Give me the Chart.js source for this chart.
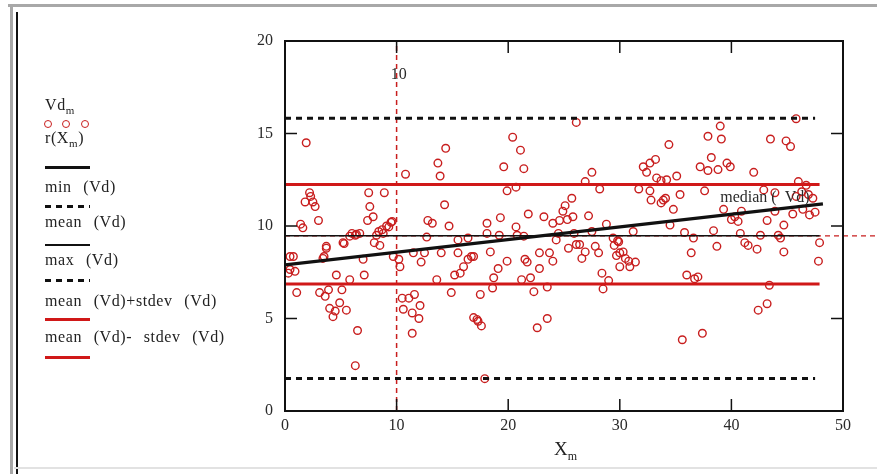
<!DOCTYPE html>
<html>
<head>
<meta charset="utf-8">
<script src="https://cdn.jsdelivr.net/npm/chart.js@4.4.1/dist/chart.umd.min.js"></script>
<style>
body { margin: 0; background: #fff; }
#wrap { position: relative; width: 877px; height: 474px; overflow: hidden; font-family: "Liberation Serif", serif; color: #222; }
#chart { position: absolute; left: 0; top: 0; }
.edge { position: absolute; }
.leg { position: absolute; left: 45px; font-size: 16px; line-height: 18px; white-space: nowrap; letter-spacing: 0.6px; word-spacing: 7px; }
.leg sub { font-size: 11px; }
.sw { position: absolute; left: 45px; width: 45px; }
.dot { position: absolute; width: 6px; height: 6px; border: 1.4px solid #c81e1e; border-radius: 50%; }
#xtitle { position: absolute; left: 554px; top: 438px; font-size: 19px; }
#xtitle sub { font-size: 12px; }
</style>
</head>
<body>
<div id="wrap">
  <!-- moldura da janela -->
  <div class="edge" style="left:8px;top:4px;width:869px;height:3px;background:#a8a8a8"></div>
  <div class="edge" style="left:10px;top:4px;width:3px;height:470px;background:#a8a8a8"></div>
  <div class="edge" style="left:16px;top:12px;width:2px;height:462px;background:#111"></div>
  <div class="edge" style="left:14px;top:467px;width:863px;height:2px;background:#e2e2e2"></div>

  <canvas id="chart" width="877" height="474"></canvas>

  <!-- legenda do eixo y -->
  <div class="leg" style="top:96px">Vd<sub>m</sub></div>
  <span class="dot" style="left:44px;top:120px"></span>
  <span class="dot" style="left:62px;top:120px"></span>
  <span class="dot" style="left:81px;top:120px"></span>
  <div class="leg" style="top:129px">r(X<sub>m</sub>)</div>
  <div class="sw" style="top:166px;height:3px;background:#111"></div>
  <div class="leg" style="top:178px">min (Vd)</div>
  <div class="sw" style="top:205px;height:3px;background:repeating-linear-gradient(90deg,#111 0 6px,transparent 6px 11px)"></div>
  <div class="leg" style="top:213px">mean (Vd)</div>
  <div class="sw" style="top:244px;height:1.5px;background:#111"></div>
  <div class="leg" style="top:251px">max (Vd)</div>
  <div class="sw" style="top:279px;height:3px;background:repeating-linear-gradient(90deg,#111 0 6px,transparent 6px 11px)"></div>
  <div class="leg" style="top:292px">mean (Vd)+stdev (Vd)</div>
  <div class="sw" style="top:318px;height:3px;background:#d01818"></div>
  <div class="leg" style="top:328px">mean (Vd)- stdev (Vd)</div>
  <div class="sw" style="top:356px;height:3px;background:#d01818"></div>

  <div id="xtitle">X<sub>m</sub></div>
</div>

<script>
// dados
const vdX = [0.3, 0.45, 0.45, 0.75, 0.9, 1.05, 1.4, 1.6, 1.8, 1.9, 2.2, 2.3, 2.5, 2.7, 3.0, 3.1, 3.4, 3.5, 3.6, 3.7,
  3.7, 3.9, 4.0, 4.3, 4.5, 4.6, 4.9, 5.1, 5.2, 5.3, 5.5, 5.8, 5.8, 6.0, 6.3, 6.3, 6.4, 6.5, 6.7, 7.0,
  7.1, 7.4, 7.5, 7.6, 7.9, 8.0, 8.2, 8.4, 8.5, 8.7, 8.8, 8.9, 9.1, 9.3, 9.5, 9.6, 9.7, 10.2, 10.3, 10.5,
  10.6, 10.8, 11.1, 11.4, 11.4, 11.5, 11.6, 12.0, 12.1, 12.2, 12.5, 12.7, 12.8, 13.2, 13.6, 13.7, 13.9, 14.0, 14.3, 14.4,
  14.7, 14.9, 15.2, 15.5, 15.5, 15.7, 16.0, 16.4, 16.4, 16.7, 16.9, 16.9, 17.2, 17.3, 17.5, 17.6, 17.9, 18.1, 18.1, 18.4,
  18.6, 18.7, 19.1, 19.2, 19.3, 19.6, 19.9, 19.9, 20.4, 20.7, 20.7, 20.8, 21.1, 21.2, 21.4, 21.4, 21.5, 21.7, 21.8, 22.0,
  22.3, 22.6, 22.8, 22.8, 23.2, 23.5, 23.5, 23.7, 24.0, 24.0, 24.3, 24.5, 24.6, 24.9, 25.1, 25.3, 25.4, 25.7, 25.8, 25.9,
  26.1, 26.1, 26.4, 26.6, 26.9, 26.9, 27.2, 27.5, 27.5, 27.8, 28.1, 28.2, 28.4, 28.5, 28.8, 29.0, 29.4, 29.5, 29.7, 29.8,
  29.9, 30.0, 30.0, 30.3, 30.5, 30.8, 30.9, 31.2, 31.4, 31.7, 32.1, 32.4, 32.7, 32.7, 32.8, 33.2, 33.3, 33.7, 33.7, 33.9,
  34.1, 34.2, 34.4, 34.5, 34.8, 35.1, 35.4, 35.6, 35.8, 36.0, 36.4, 36.6, 36.7, 37.0, 37.2, 37.4, 37.6, 37.9, 37.9, 38.2,
  38.4, 38.7, 38.8, 39.0, 39.1, 39.3, 39.6, 39.9, 40.0, 40.3, 40.6, 40.8, 40.9, 41.2, 41.5, 42.0, 42.3, 42.4, 42.6, 42.9,
  43.2, 43.2, 43.4, 43.5, 43.9, 43.9, 44.2, 44.4, 44.7, 44.7, 44.9, 45.3, 45.5, 45.8, 45.8, 46.0, 46.3, 46.4, 46.7, 46.9,
  47.0, 47.3, 47.5, 47.8, 47.9];
const vdY = [7.45, 7.65, 8.35, 8.35, 7.55, 6.4, 10.1, 9.9, 11.3, 14.5, 11.8, 11.6, 11.3, 11.05, 10.3, 6.4, 8.25, 8.35, 6.2, 8.8,
  8.9, 6.55, 5.55, 5.1, 5.4, 7.35, 5.85, 6.55, 9.1, 9.05, 5.45, 7.1, 9.45, 9.6, 9.5, 2.45, 9.55, 4.35, 9.6, 8.2,
  7.35, 10.3, 11.8, 11.05, 10.5, 9.1, 9.5, 9.7, 8.95, 9.8, 9.6, 11.8, 10.0, 9.95, 10.2, 10.25, 8.35, 8.2, 7.8, 6.1,
  5.5, 12.8, 6.1, 5.3, 4.2, 8.55, 6.3, 5.0, 5.7, 8.05, 8.55, 9.4, 10.3, 10.15, 7.1, 13.4, 12.7, 8.55, 11.15, 14.2,
  10.0, 6.4, 7.35, 8.55, 9.25, 7.45, 7.8, 8.2, 9.35, 8.35, 5.05, 8.35, 4.95, 4.85, 6.3, 4.6, 1.75, 10.15, 9.6, 8.6,
  6.65, 7.2, 7.7, 9.5, 10.45, 13.2, 8.1, 11.9, 14.8, 12.1, 9.95, 9.5, 14.1, 7.1, 13.1, 9.45, 8.2, 8.05, 10.65, 7.2,
  6.45, 4.5, 7.7, 8.55, 10.5, 5.0, 6.7, 8.55, 10.15, 8.1, 9.25, 9.6, 10.3, 10.8, 11.1, 10.35, 8.8, 11.5, 10.5, 9.6,
  15.6, 9.0, 9.0, 8.25, 12.4, 8.6, 10.55, 12.9, 9.7, 8.9, 8.55, 12.0, 7.45, 6.6, 10.1, 7.05, 9.35, 8.95, 8.4, 9.2,
  9.15, 7.8, 8.55, 8.6, 8.25, 8.1, 7.8, 9.7, 8.05, 12.0, 13.2, 12.9, 13.4, 11.9, 11.4, 13.6, 12.6, 12.45, 11.25, 11.4,
  11.5, 12.5, 14.4, 10.05, 10.9, 12.7, 11.7, 3.85, 9.65, 7.35, 8.55, 9.35, 7.15, 7.25, 13.2, 4.2, 11.9, 14.85, 13.0, 13.7,
  9.75, 8.9, 13.05, 15.4, 14.7, 10.9, 13.4, 13.2, 10.35, 10.5, 10.25, 9.6, 10.8, 9.1, 8.95, 12.9, 8.75, 5.45, 9.5, 11.95,
  10.3, 5.8, 6.8, 14.7, 11.8, 10.8, 9.5, 9.35, 10.05, 8.6, 14.6, 14.3, 10.65, 15.8, 11.6, 12.4, 11.85, 10.9, 12.2, 11.7,
  10.6, 11.5, 10.75, 8.1, 9.1];

// reta de regressão r(Xm)
const regX = [0, 48.2];
const regY = [7.9, 11.2];

// linhas horizontais
const minVd = 1.76;
const maxVd = 15.82;
const meanVd = 9.47;
const meanPlusSd = 12.25;
const meanMinusSd = 6.87;
const levelX = [0, 47.9];
const dashX = [0, 47.5];

// marcadores (traço vermelho)
const markerX = 10;
const markerY = 9.47;

// ticks
const xTicks = [0, 10, 20, 30, 40, 50];
const yTicks = [0, 5, 10, 15, 20];

const fontFam = '"Liberation Serif", serif';
const redLine = '#d01818';
const redDot = '#c81e1e';

function flat(xs, v) {
    return xs.map(x => ({ x: x, y: v }));
}

const lineBase = { showLine: true, pointRadius: 0, pointHoverRadius: 0, fill: false };

// moldura e marcas internas
const framePlugin = {
    id: 'frame',
    afterDatasetsDraw(chart) {
        const { ctx, chartArea: a, scales } = chart;
        const x = scales.x, y = scales.y;
        const tl = 12;
        ctx.save();
        ctx.strokeStyle = '#111';
        ctx.lineWidth = 1.5;
        ctx.beginPath();
        xTicks.forEach(v => {
            const px = x.getPixelForValue(v);
            if (v <= x.min || v >= x.max) return;
            ctx.moveTo(px, a.bottom); ctx.lineTo(px, a.bottom - tl);
            ctx.moveTo(px, a.top); ctx.lineTo(px, a.top + tl);
        });
        yTicks.forEach(v => {
            const py = y.getPixelForValue(v);
            if (v <= y.min || v >= y.max) return;
            ctx.moveTo(a.left, py); ctx.lineTo(a.left + tl, py);
            ctx.moveTo(a.right, py); ctx.lineTo(a.right - tl, py);
        });
        ctx.stroke();
        ctx.lineWidth = 2;
        ctx.strokeRect(a.left, a.top, a.right - a.left, a.bottom - a.top);

        // rótulos dentro do gráfico
        ctx.fillStyle = '#2a2a2a';
        ctx.font = '16px ' + fontFam;
        ctx.textBaseline = 'middle';
        ctx.textAlign = 'center';
        ctx.fillText(String(markerX), x.getPixelForValue(10.2), y.getPixelForValue(18.15));
        ctx.textAlign = 'left';
        ctx.fillText('median (  Vd)', x.getPixelForValue(39.0), y.getPixelForValue(11.55));
        ctx.restore();
    }
};

new Chart(document.getElementById('chart'), {
    type: 'scatter',
    data: {
        datasets: [
            { ...lineBase, label: 'r(Xm)', data: regX.map((x, i) => ({ x: x, y: regY[i] })), borderColor: '#111', borderWidth: 3.2 },
            { ...lineBase, label: 'mean (Vd)', data: flat(levelX, meanVd), borderColor: '#111', borderWidth: 1.5 },
            { ...lineBase, label: 'min (Vd)', data: flat(dashX, minVd), borderColor: '#111', borderWidth: 3, borderDash: [6, 5] },
            { ...lineBase, label: 'max (Vd)', data: flat(dashX, maxVd), borderColor: '#111', borderWidth: 3, borderDash: [6, 5] },
            { ...lineBase, label: 'mean (Vd)+stdev (Vd)', data: flat(levelX, meanPlusSd), borderColor: redLine, borderWidth: 3 },
            { ...lineBase, label: 'mean (Vd)- stdev (Vd)', data: flat(levelX, meanMinusSd), borderColor: redLine, borderWidth: 3 },
            { ...lineBase, label: 'marker y', data: [{ x: 0, y: markerY }, { x: 53, y: markerY }], borderColor: redDot, borderWidth: 1.2, borderDash: [5, 4], clip: false },
            { ...lineBase, label: 'marker x', data: [{ x: markerX, y: 0 }, { x: markerX, y: 20 }], borderColor: redDot, borderWidth: 1.5, borderDash: [5, 4] },
            {
                label: 'Vdm',
                data: vdX.map((x, i) => ({ x: x, y: vdY[i] })),
                pointStyle: 'circle',
                pointRadius: 3.8,
                pointHoverRadius: 3.8,
                borderWidth: 1.4,
                borderColor: redDot,
                backgroundColor: 'rgba(0,0,0,0)'
            }
        ]
    },
    options: {
        responsive: false,
        animation: false,
        events: [],
        layout: { padding: { left: 240, right: 34, top: 41, bottom: 0 } },
        plugins: { legend: { display: false }, tooltip: { enabled: false } },
        scales: {
            x: {
                type: 'linear', min: 0, max: 50,
                afterBuildTicks: s => { s.ticks = xTicks.map(v => ({ value: v })); },
                afterFit: s => { s.height = 63; },
                grid: { display: false, drawTicks: false },
                border: { display: false },
                ticks: { color: '#2a2a2a', padding: 5, maxRotation: 0, font: { family: fontFam, size: 16 } }
            },
            y: {
                type: 'linear', min: 0, max: 20,
                afterBuildTicks: s => { s.ticks = yTicks.map(v => ({ value: v })); },
                afterFit: s => { s.width = 45; },
                grid: { display: false, drawTicks: false },
                border: { display: false },
                ticks: { color: '#2a2a2a', padding: 12, font: { family: fontFam, size: 16 } }
            }
        }
    },
    plugins: [framePlugin]
});
</script>
</body>
</html>
